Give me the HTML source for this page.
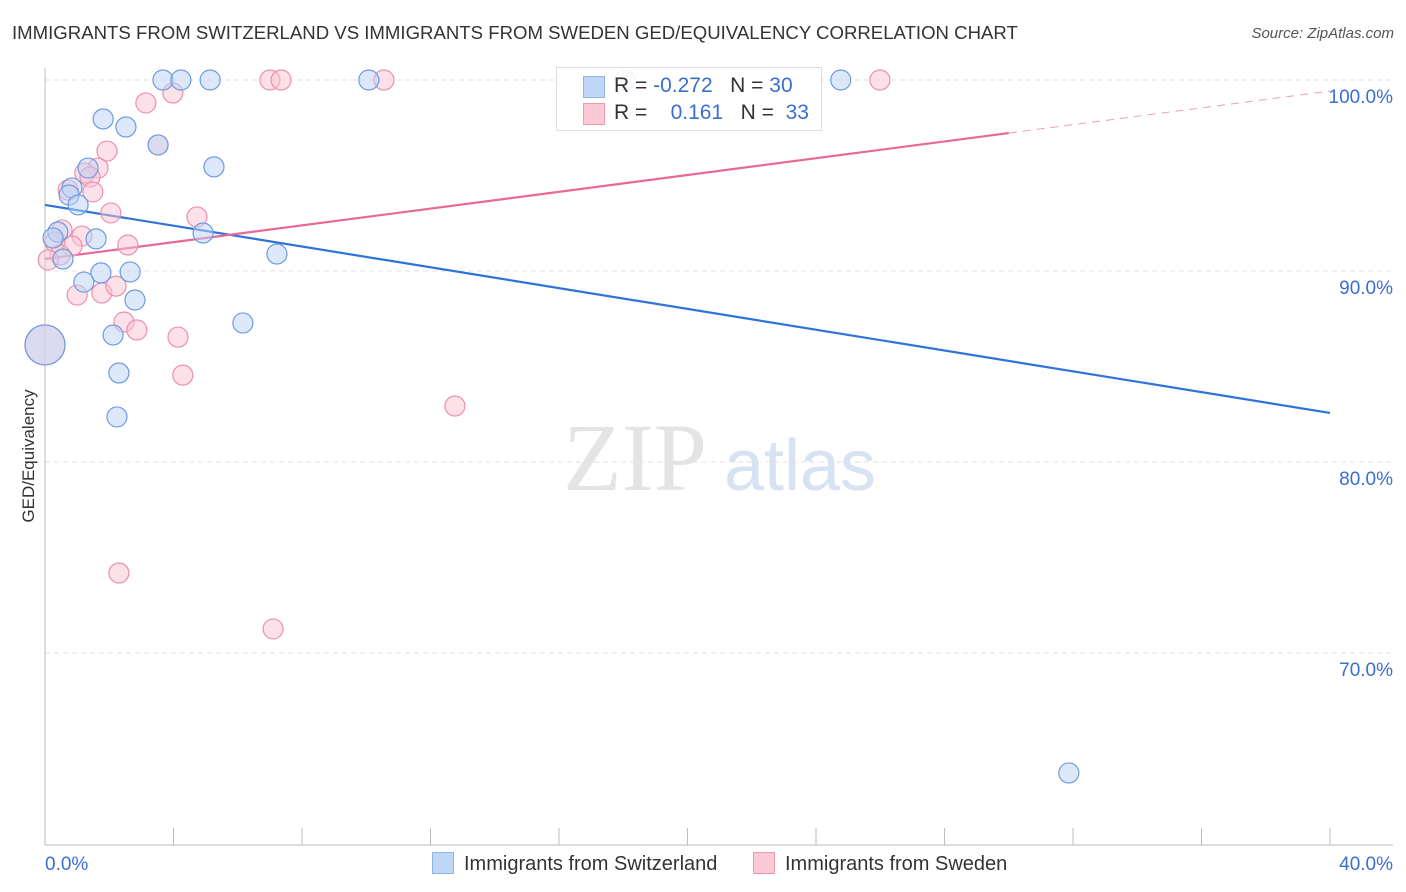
<!DOCTYPE html>
<html><head><meta charset="utf-8">
<style>
body{margin:0;background:#fff;font-family:"Liberation Sans",sans-serif;}
#wrap{position:relative;width:1406px;height:892px;overflow:hidden;}
.t{position:absolute;white-space:nowrap;}
</style></head>
<body>
<div id="wrap">
<div class="t" style="left:12px;top:22px;font-size:18.6px;color:#333;">IMMIGRANTS FROM SWITZERLAND VS IMMIGRANTS FROM SWEDEN GED/EQUIVALENCY CORRELATION CHART</div>
<div class="t" style="right:12px;top:25px;font-size:15px;color:#555;font-style:italic;">Source: ZipAtlas.com</div>
<svg id="svg" width="1406" height="892" style="position:absolute;left:0;top:0;">
<g>
<text x="635" y="490" font-family="Liberation Serif" font-size="96" fill="#e4e4e4" text-anchor="middle">ZIP</text>
<text x="800" y="490" font-family="Liberation Sans" font-size="72" fill="#d7e3f3" text-anchor="middle">atlas</text>
</g>
<text transform="translate(34,456) rotate(-90)" font-size="17" fill="#333" text-anchor="middle">GED/Equivalency</text>
<g id="grid"></g><g id="lines"></g><g id="pts"></g>
</svg>
<div style="position:absolute;left:556px;top:67px;width:264px;height:62px;border:1px solid #ddd;background:rgba(255,255,255,0.9);font-size:21px;">
<div style="position:absolute;left:26px;top:8px;width:20px;height:20px;background:#c0d6f6;border:1px solid #8fb3ea;"></div>
<div class="t" style="left:57px;top:6px;color:#333;">R = <span style="color:#3a6fd0">-0.272</span>&nbsp;&nbsp;&nbsp;N = <span style="color:#3a6fd0">30</span></div>
<div style="position:absolute;left:26px;top:35px;width:20px;height:20px;background:#fcc9d7;border:1px solid #f09ab2;"></div>
<div class="t" style="left:57px;top:33px;color:#333;">R = &nbsp;&nbsp;&nbsp;<span style="color:#3a6fd0">0.161</span>&nbsp;&nbsp;&nbsp;N = &nbsp;<span style="color:#3a6fd0">33</span></div>
</div>
<div style="position:absolute;left:432px;top:852px;font-size:20px;color:#333;">
<span style="display:inline-block;width:20px;height:20px;background:#c0d6f6;border:1px solid #8fb3ea;vertical-align:-4px;margin-right:10px;"></span>Immigrants from Switzerland</div>
<div style="position:absolute;left:753px;top:852px;font-size:20px;color:#333;">
<span style="display:inline-block;width:20px;height:20px;background:#fcc9d7;border:1px solid #f09ab2;vertical-align:-4px;margin-right:10px;"></span>Immigrants from Sweden</div>
</div>
<script>
const blueX=[3.67,4.23,5.14,10.08,18.05,24.77,1.81,2.52,3.52,5.26,1.34,0.84,0.75,1.03,0.40,0.25,1.59,4.92,0.56,7.22,1.74,2.65,1.21,2.80,6.16,2.12,2.30,2.24,31.87,0];
const blueY=[100,100,100,100,100,100,97.96,97.54,96.60,95.45,95.39,94.35,93.98,93.46,92.04,91.73,91.68,91.99,90.63,90.89,89.90,89.95,89.42,88.48,87.28,86.65,84.66,82.36,63.72,86.13];
const pinkX=[7.00,7.35,10.55,25.99,3.14,3.98,3.52,1.93,1.65,1.24,1.40,1.49,0.72,2.05,4.73,0.53,1.15,0.84,0.31,2.58,0.47,1.00,1.77,2.21,2.46,2.86,4.14,4.29,12.76,2.30,7.10,0,0.1];
const pinkY=[100,100,100,100,98.80,99.32,96.60,96.28,95.39,95.13,94.92,94.14,94.24,93.04,92.83,92.15,91.83,91.31,91.52,91.36,90.84,88.74,88.85,89.21,87.33,86.91,86.54,84.55,82.93,74.19,71.26,86.13,90.58];
const blueTrend=[93.46,82.57];
const pinkTrend=[90.63,99.42];
const pinkSolidEnd=30.0;
const yTicks=[100,90,80,70];
const xTickLabels=["0.0%","40.0%"];
const NS="http://www.w3.org/2000/svg";
const sx=v=>45+v/40*1285, sy=v=>80+(100-v)*19.1;
function mk(tag,attrs,parent){const e=document.createElementNS(NS,tag);for(const k in attrs)e.setAttribute(k,attrs[k]);document.getElementById(parent).appendChild(e);return e;}
yTicks.forEach(v=>{
 const l=mk('line',{x1:45,x2:1393,y1:sy(v),y2:sy(v),stroke:'#e2e2e2','stroke-dasharray':'5,4'},'grid');
 
 
 const t=mk('text',{x:1393,y:sy(v)+23,'text-anchor':'end','font-size':19,fill:'#3a6fd0'},'grid');
 t.textContent=v.toFixed(1)+'%';
 
 
});
const ax=mk('line',{x1:45,x2:45,y1:68,y2:845,stroke:'#bbb'},'grid');


const bx=mk('line',{x1:45,x2:1393,y1:845,y2:845,stroke:'#bbb'},'grid');


for(let i=0;i<=10;i++){const tk=mk('line',{x1:sx(i*4),x2:sx(i*4),y1:828,y2:845,stroke:'#bbb'},'grid');
 
 }
[[0,'start',45],[1,'end',1393]].forEach(([i,a,x])=>{const t=mk('text',{x:x,y:870,'text-anchor':a,'font-size':19,fill:'#3a6fd0'},'grid');t.textContent=xTickLabels[i];
 
 });
const lb=mk('line',{x1:sx(0),y1:sy(blueTrend[0]),x2:sx(40),y2:sy(blueTrend[1]),stroke:'#2f73d8','stroke-width':2.2},'lines');


const pAt=x=>pinkTrend[0]+(pinkTrend[1]-pinkTrend[0])*x/40;
const lp=mk('line',{x1:sx(0),y1:sy(pAt(0)),x2:sx(pinkSolidEnd),y2:sy(pAt(pinkSolidEnd)),stroke:'#e8689a','stroke-width':2.2},'lines');


const lpd=mk('line',{x1:sx(pinkSolidEnd),y1:sy(pAt(pinkSolidEnd)),x2:sx(40),y2:sy(pAt(40)),stroke:'#e8a0ba','stroke-width':1,'stroke-dasharray':'8,6'},'lines');


function pts(X,Y,fill,stroke,name){X.forEach((x,i)=>{const r=(x===0)?20:10;
 const c=mk('circle',{cx:sx(x),cy:sy(Y[i]),r:r,fill:fill,'fill-opacity':0.5,stroke:stroke,'stroke-width':1.2},'pts');
 
 });}
pts(pinkX,pinkY,'#fbc4d4','#ec8fae','point-sweden');
pts(blueX,blueY,'#bcd4f5','#6d9be0','point-switzerland');
</script>
</body></html>
